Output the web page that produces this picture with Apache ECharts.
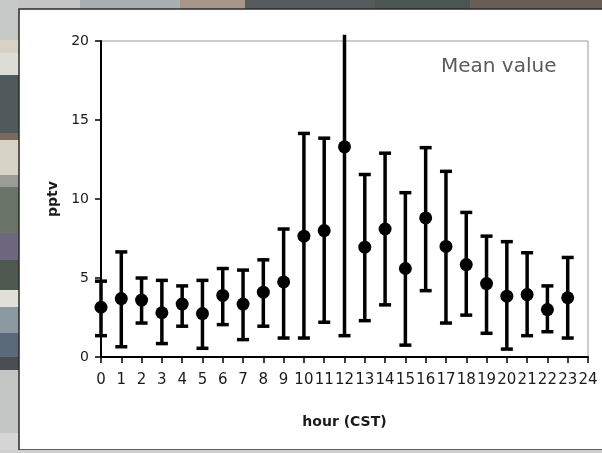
<!DOCTYPE html>
<html>
<head>
<meta charset="utf-8">
<script src="https://cdn.jsdelivr.net/npm/echarts@6/dist/echarts.min.js"></script>
<style>
html,body{margin:0;padding:0;background:#d0d0d0;}
#chart{width:602px;height:453px;}
</style>
</head>
<body>
<div id="chart"></div>
<script>
// Data
var hours = [0,1,2,3,4,5,6,7,8,9,10,11,12,13,14,15,16,17,18,19,20,21,22,23];
var meanValues = [3.15,3.7,3.6,2.8,3.35,2.75,3.9,3.35,4.1,4.75,7.65,8.0,13.3,6.95,8.1,5.6,8.8,7.0,5.85,4.65,3.85,3.95,3.0,3.75];
var upperValues = [4.8,6.65,5.0,4.85,4.5,4.85,5.6,5.5,6.15,8.1,14.15,13.85,20.4,11.55,12.9,10.4,13.25,11.75,9.15,7.65,7.3,6.6,4.5,6.3];
var lowerValues = [1.35,0.65,2.15,0.85,1.95,0.55,2.05,1.1,1.95,1.2,1.2,2.2,1.35,2.3,3.3,0.75,4.2,2.15,2.65,1.5,0.5,1.35,1.6,1.2];
var yTicks = [0,5,10,15,20];
var xTitle = 'hour (CST)';
var yTitle = 'pptv';
var noteText = 'Mean value';

var errData = hours.map(function(h,i){return [h, lowerValues[i], upperValues[i]];});
var meanData = hours.map(function(h,i){return [h, meanValues[i]];});

var chart = echarts.init(document.getElementById('chart'));
var FONT = '"DejaVu Sans",sans-serif';

// decorative blurred-photo border around the white panel
var bg = [];
var topStrip = [[0,80,'#c4c6c6'],[80,180,'#a9b0b4'],[180,245,'#a8968a'],[245,375,'#555a5c'],[375,470,'#4c5650'],[470,602,'#6a5e58']];
topStrip.forEach(function(s){bg.push({type:'rect',shape:{x:s[0],y:0,width:s[1]-s[0],height:10},style:{fill:s[2]},z:-10});});
var leftStrip = [[0,40,'#c6c8c8'],[40,53,'#d8d2c4'],[53,75,'#dedcd6'],[75,133,'#505a5c'],[133,140,'#7a6a5e'],[140,175,'#d6d2c6'],[175,187,'#9a9c98'],[187,233,'#6a7468'],[233,260,'#6d6880'],[260,290,'#4e5a50'],[290,307,'#e0e0d8'],[307,333,'#8a9aa0'],[333,357,'#5a6a78'],[357,370,'#4a4e52'],[370,433,'#c4c6c6'],[433,453,'#d6d6d6']];
leftStrip.forEach(function(s){bg.push({type:'rect',shape:{x:0,y:s[0],width:19,height:s[1]-s[0]},style:{fill:s[2]},z:-10});});
bg.push({type:'rect',shape:{x:19,y:9,width:600,height:441},style:{fill:'#ffffff',stroke:'#2a2a2a',lineWidth:1.5},z:-9});
bg.push({type:'rect',shape:{x:0,y:450,width:602,height:3},style:{fill:'#cfcfcf'},z:-8});
bg.push({type:'text',left:441,top:57,style:{text:noteText,fontFamily:FONT,fontSize:20,fill:'#5a5a5a'},z:5});

chart.setOption({
  animation:false,
  backgroundColor:'#d0d0d0',
  graphic:bg,
  grid:{left:101,right:14,top:41,bottom:96,show:true,borderColor:'#999999',borderWidth:1,backgroundColor:'transparent'},
  xAxis:{
    type:'value',min:0,max:24,interval:1,
    name:xTitle,nameLocation:'middle',nameGap:58,
    nameTextStyle:{fontFamily:FONT,fontSize:14,fontWeight:'bold',color:'#1a1a1a'},
    axisLine:{show:true,onZero:false,lineStyle:{color:'#000',width:2}},
    axisTick:{show:true,inside:false,length:6,lineStyle:{color:'#000',width:1.5}},
    axisLabel:{fontFamily:FONT,fontSize:15,color:'#1a1a1a',margin:16,showMinLabel:true,showMaxLabel:true},
    splitLine:{show:false}
  },
  yAxis:{
    type:'value',min:yTicks[0],max:yTicks[yTicks.length-1],interval:5,
    name:yTitle,nameLocation:'middle',nameGap:40,nameRotate:90,
    nameTextStyle:{fontFamily:FONT,fontSize:14,fontWeight:'bold',color:'#1a1a1a'},
    axisLine:{show:true,lineStyle:{color:'#000',width:2}},
    axisTick:{show:true,inside:false,length:6,lineStyle:{color:'#000',width:1.5}},
    axisLabel:{fontFamily:FONT,fontSize:14,color:'#1a1a1a',margin:12},
    splitLine:{show:false}
  },
  series:[
    {
      type:'custom',
      data:errData,
      clip:false,
      z:3,
      renderItem:function(params,api){
        var x = api.value(0), lo = api.value(1), hi = api.value(2);
        var pLo = api.coord([x,lo]);
        var pHi = api.coord([x,hi]);
        var hw = 6;
        var children = [
          {type:'line',shape:{x1:pLo[0],y1:pLo[1],x2:pHi[0],y2:pHi[1]},style:{stroke:'#000',lineWidth:3.5}},
          {type:'line',shape:{x1:pLo[0]-hw,y1:pLo[1],x2:pLo[0]+hw,y2:pLo[1]},style:{stroke:'#000',lineWidth:3.5}}
        ];
        if (hi <= 20) {
          children.push({type:'line',shape:{x1:pHi[0]-hw,y1:pHi[1],x2:pHi[0]+hw,y2:pHi[1]},style:{stroke:'#000',lineWidth:3.5}});
        }
        return {type:'group',children:children};
      }
    },
    {
      type:'scatter',
      data:meanData,
      symbol:'circle',
      symbolSize:13,
      itemStyle:{color:'#000',opacity:1},
      z:4
    }
  ]
});
</script>
</body>
</html>
